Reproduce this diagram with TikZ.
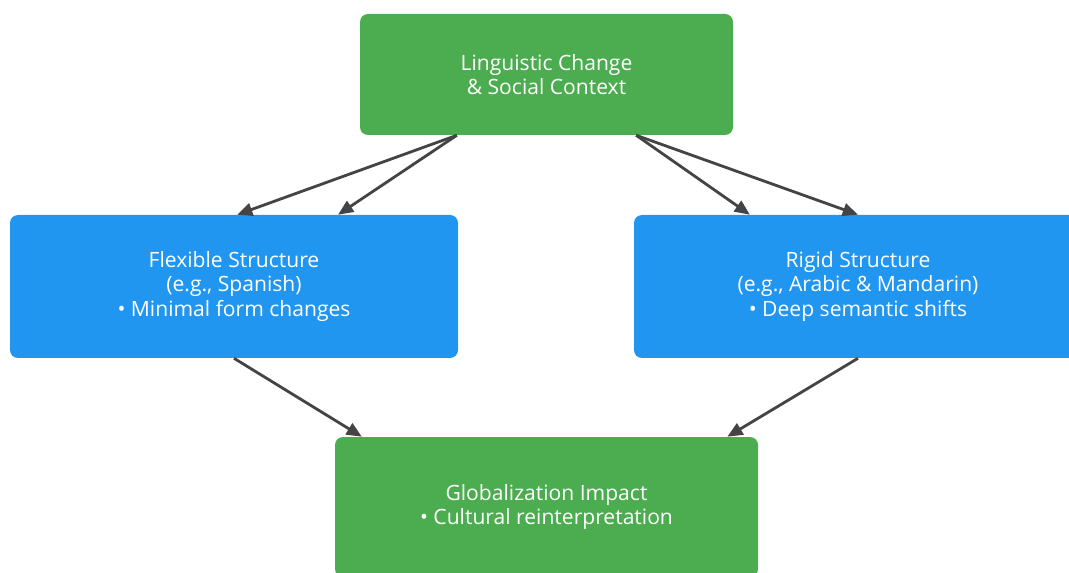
\documentclass[tikz,border=0pt]{standalone}
\usepackage{fontspec}
\setmainfont{Open Sans}
\usetikzlibrary{calc,arrows.meta}
\definecolor{boxgreen}{RGB}{76,173,80}
\definecolor{boxblue}{RGB}{33,150,240}
\definecolor{linkgray}{RGB}{68,68,68}
\begin{document}
\begin{tikzpicture}[
    box/.style={rounded corners=0.2cm,text=white,align=center,inner sep=0pt,
      font=\fontsize{15}{17.5}\selectfont},
    greenbox/.style={box,fill=boxgreen},
    bluebox/.style={box,fill=boxblue,minimum width=11.2cm,minimum height=3.575cm},
    link/.style={draw=linkgray,line width=2pt,-{Triangle[length=0.38cm,width=0.32cm]}}]
    \path[use as bounding box] (0,0) rectangle (26.725,-14.325);
    \clip (0,0) rectangle (26.725,-14.325);

    \node[greenbox,minimum width=9.325cm,minimum height=3.025cm] (change) at (13.6625,-1.8625)
        {Linguistic Change\\\& Social Context};
    \node[bluebox] (flexible) at (5.85,-7.1625)
        {Flexible Structure\\(e.g., Spanish)\\\textbullet\ Minimal form changes};
    \node[bluebox] (rigid) at (21.45,-7.1625)
        {Rigid Structure\\(e.g., Arabic \& Mandarin)\\\textbullet\ Deep semantic shifts};
    \node[greenbox,minimum width=10.575cm,minimum height=3.5cm] (impact) at (13.6625,-12.675)
        {Globalization Impact\\\textbullet\ Cultural reinterpretation};

    % top to the two structures
    \draw[link] ($(change.south west)!0.26!(change.south east)$) -- ($(flexible.north west)!0.507!(flexible.north east)$);
    \draw[link] ($(change.south west)!0.26!(change.south east)$) -- ($(flexible.north west)!0.732!(flexible.north east)$);
    \draw[link] ($(change.south west)!0.74!(change.south east)$) -- ($(rigid.north west)!0.259!(rigid.north east)$);
    \draw[link] ($(change.south west)!0.74!(change.south east)$) -- (rigid.north);

    % structures to impact
    \draw[link] (flexible.south) -- ($(impact.north west)!0.064!(impact.north east)$);
    \draw[link] (rigid.south) -- ($(impact.north west)!0.927!(impact.north east)$);
\end{tikzpicture}
\end{document}
